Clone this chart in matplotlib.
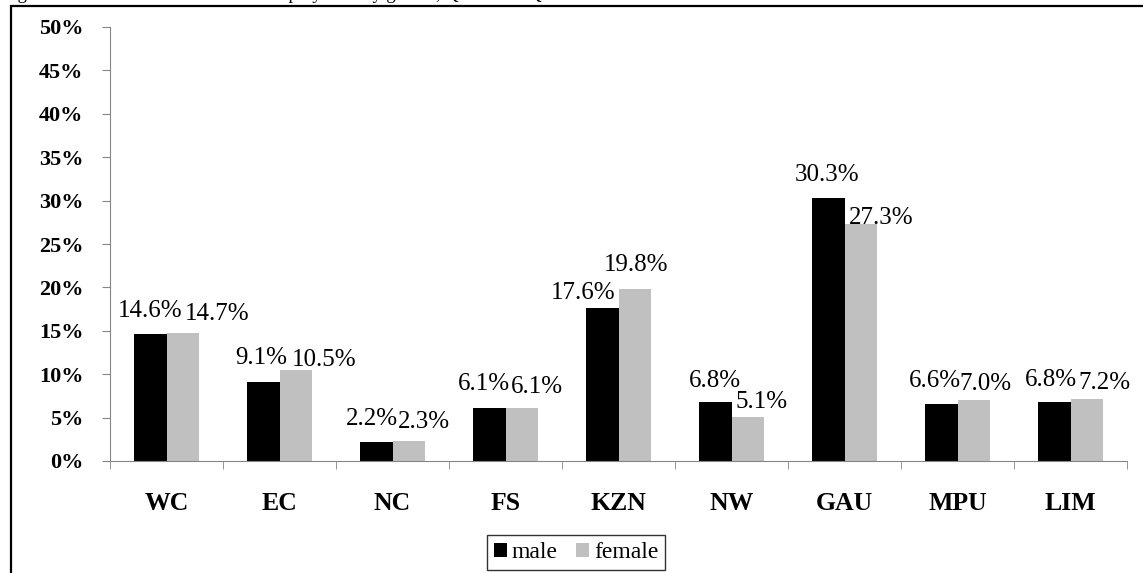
import numpy as np
import matplotlib.pyplot as plt
from matplotlib.patches import Rectangle

provinces = ['WC', 'EC', 'NC', 'FS', 'KZN', 'NW', 'GAU', 'MPU', 'LIM']
male = [14.6, 9.1, 2.2, 6.1, 17.6, 6.8, 30.3, 6.6, 6.8]
female = [14.7, 10.5, 2.3, 6.1, 19.8, 5.1, 27.3, 7.0, 7.2]
yticks = [0, 5, 10, 15, 20, 25, 30, 35, 40, 45, 50]

# manual label nudges (pixels) as placed in the original sheet
male_dx = [0, -2, -4, -5, -19, 0, -1, -6, -3]
male_dy = [17, 18, 17, 18, 9, 15, 17, 17, 16]
female_dx = [34, 28, 15, 15, 1, 14, 20, 12, 18]
female_dy = [13, 4, 13, 15, 18, 9, 0, 10, 10]

plt.rcParams['font.family'] = 'Liberation Serif'

fig = plt.figure(figsize=(11.43, 5.73), dpi=100)
ax = fig.add_axes([110 / 1143, 1 - 461 / 573, 1017 / 1143, 434 / 573])

x = np.arange(len(provinces))
w = 0.29
b1 = ax.bar(x - w / 2, male, w, color='black', label='male')
b2 = ax.bar(x + w / 2, female, w, color='#c0c0c0', label='female')

px = 0.72  # points per pixel at dpi 100
for i in range(len(provinces)):
    ax.annotate(f'{male[i]:.1f}%', (x[i] - w / 2, male[i]),
                xytext=(male_dx[i] * px, male_dy[i] * px), textcoords='offset points',
                ha='center', va='baseline', fontsize=18)
    ax.annotate(f'{female[i]:.1f}%', (x[i] + w / 2, female[i]),
                xytext=(female_dx[i] * px, female_dy[i] * px), textcoords='offset points',
                ha='center', va='baseline', fontsize=18)

ax.set_xlim(-0.5, len(provinces) - 0.5)
ax.set_ylim(0, 50)
ax.set_yticks(yticks)
ax.set_yticklabels([f'{t}%' for t in yticks], fontsize=16, fontweight='bold')
ax.set_xticks(x)
ax.set_xticklabels(provinces, fontsize=18.5, fontweight='bold')
ax.set_xticks(np.arange(len(provinces) + 1) - 0.5, minor=True)
ax.tick_params(axis='x', which='major', length=0, pad=22)
ax.tick_params(axis='x', which='minor', length=6, color='#868686', direction='out')
ax.tick_params(axis='y', length=6, color='#868686', pad=13)

for s in ['top', 'right']:
    ax.spines[s].set_visible(False)
for s in ['left', 'bottom']:
    ax.spines[s].set_color('#868686')

leg = fig.legend(handles=[b1, b2], loc='center', bbox_to_anchor=(576 / 1143, 1 - 552.5 / 573),
                 ncol=2, fontsize=17, frameon=True, fancybox=False, edgecolor='black',
                 handlelength=0.55, handleheight=0.55, handletextpad=0.2, columnspacing=0.8,
                 borderpad=0.3)
leg.get_frame().set_linewidth(1.0)

# outer frame, partly cut by the page edge
fig.patches.append(Rectangle((11 / 1143, -0.05), 1.2, 1 - 6 / 573 + 0.05, transform=fig.transFigure,
                             fill=False, edgecolor='black', linewidth=1.6))

# caption above, cropped by the page top as in the source
fig.text(2 / 1143, 1 + 0.5 / 573, 'Figure 4: Provincial distribution of employment by gender, Q1 2008 \u2013 Q1 2009',
         fontsize=13.3, va='baseline', ha='left')

fig.savefig('out.png', dpi=100)
